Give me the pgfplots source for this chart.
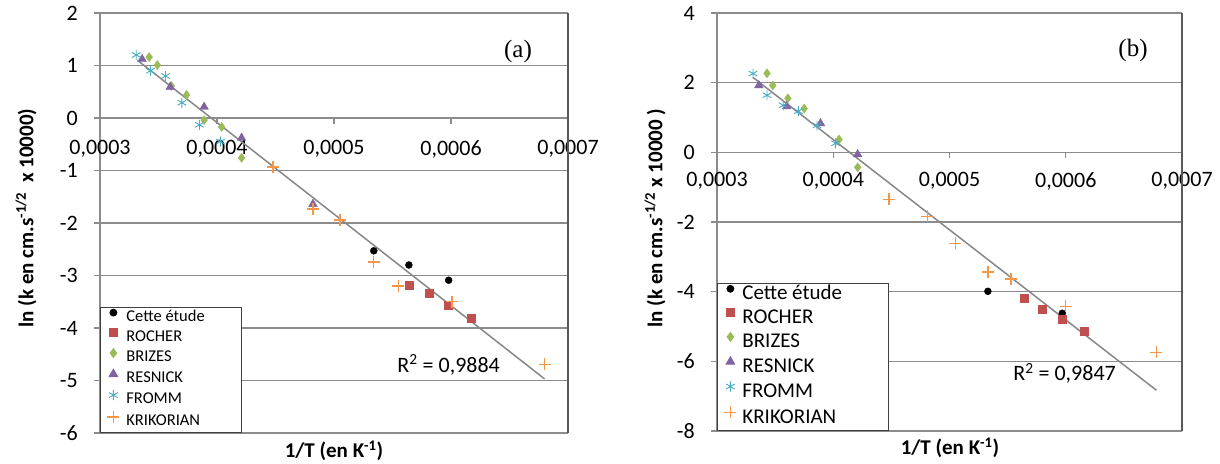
\documentclass[border=0pt]{standalone}
\usepackage{pgfplots}
\pgfplotsset{compat=1.18}
\usepackage{fontspec}
\setmainfont{Carlito}
\newfontfamily\serifA{Liberation Serif}
\definecolor{cRoch}{HTML}{C0504D}
\definecolor{cBriz}{HTML}{9BBB59}
\definecolor{cResn}{HTML}{8064A2}
\definecolor{cFrom}{HTML}{4BACC6}
\definecolor{cKrik}{HTML}{F79646}
\definecolor{cGrid}{RGB}{140,140,140}
\definecolor{cTrend}{RGB}{135,135,135}
\pgfplotsset{
  excel/.style={
    scale only axis,
    xmin=0.0003, xmax=0.0007,
    axis x line=middle, axis y line=left,
    axis line style={-, draw=cGrid, line width=1.2pt},
    ymajorgrids, grid style={draw=cGrid, line width=1.2pt},
    xtick={0.0003,0.0004,0.0005,0.0006,0.0007},
    xticklabels={{0,0003},{0,0004},{0,0005},{0,0006},{0,0007}},
    scaled x ticks=false,
    tick align=outside, major tick length=6pt,
    tick style={draw=cGrid, line width=1.2pt},
    hide obscured x ticks=false, hide obscured y ticks=false,
    xticklabel style={font=\fontsize{22}{26}\selectfont, inner sep=0pt, anchor=north, yshift=-16pt},
    yticklabel style={font=\fontsize{22}{26}\selectfont, inner sep=0pt, anchor=east, xshift=-16pt},
    legend cell align=left,
    clip=false,
  },
  lmL/.style={legend image code/.code={\draw[mark repeat=2,mark phase=2,##1] plot coordinates {(0pt,5.5pt)(7pt,5.5pt)(14pt,5.5pt)};}},
  lmR/.style={legend image code/.code={\draw[mark repeat=2,mark phase=2,##1] plot coordinates {(0pt,6.8pt)(8pt,6.8pt)(16pt,6.8pt)};}},
}
\begin{document}
\begin{tikzpicture}
\path[use as bounding box] (0,0) rectangle (1220pt,463pt);
% ---------------- (a) ----------------
\begin{axis}[excel,
  at={(100pt,30pt)}, anchor=south west,
  width=468pt, height=420pt,
  ymin=-6, ymax=2,
  ytick={-6,-5,-4,-3,-2,-1,0,1,2},
  yticklabels={-6,-5,-4,-3,-2,-1,0,1,2},
  legend style={at={(0,0)}, anchor=south west, draw=black!75, line width=0.8pt, fill=white,
    font=\fontsize{16.5}{19}\selectfont, inner xsep=7pt, inner ysep=2pt, row sep=2.5pt, column sep=7pt,
    nodes={inner sep=0pt, text height=11pt, text depth=5pt}},
]
\addplot[cTrend, line width=1.5pt, forget plot] coordinates {(0.000332,1.10) (0.000680,-4.97)};
\addplot[only marks, mark=*, mark size=3.5pt, black, lmL] coordinates {
 (0.000534,-2.53) (0.000564,-2.80) (0.000598,-3.09)};
\addlegendentry{\makebox[108pt][l]{Cette étude}}
\addplot[only marks, mark=square*, mark size=4pt, cRoch, lmL] coordinates {
 (0.000564,-3.18) (0.000581,-3.33) (0.000598,-3.56) (0.000617,-3.81)};
\addlegendentry{ROCHER}
\addplot[only marks, mark=diamond*, mark size=4.5pt, cBriz, lmL] coordinates {
 (0.000342,1.16) (0.000349,1.01) (0.000361,0.61) (0.000374,0.44) (0.000389,-0.04) (0.000404,-0.17) (0.000421,-0.76)};
\addlegendentry{BRIZES}
\addplot[only marks, mark=triangle*, mark size=5pt, cResn, lmL] coordinates {
 (0.000336,1.12) (0.000360,0.59) (0.000389,0.21) (0.000421,-0.38) (0.000482,-1.64)};
\addlegendentry{RESNICK}
\addplot[only marks, mark=asterisk, mark size=5pt, cFrom, line width=0.9pt, lmL] coordinates {
 (0.000331,1.20) (0.000343,0.90) (0.000356,0.80) (0.000370,0.29) (0.000385,-0.13) (0.000403,-0.45)};
\addlegendentry{FROMM}
\addplot[only marks, mark=+, mark size=6pt, color=cKrik, mark options={draw=cKrik, line width=1.4pt}, lmL] coordinates {
 (0.000448,-0.93) (0.000482,-1.73) (0.000505,-1.94) (0.000534,-2.74) (0.000555,-3.20) (0.000601,-3.50) (0.000680,-4.69)};
\addlegendentry{KRIKORIAN}
\draw[draw=black!65, line width=1.8pt] (rel axis cs:1,0) -- (rel axis cs:1,1);
\node[font=\fontsize{22}{26}\selectfont] at (axis cs:0.000598,-4.70) {R\textsuperscript{2} = 0,9884};
\end{axis}
% ---------------- (b) ----------------
\begin{axis}[excel,
  at={(717pt,32pt)}, anchor=south west,
  width=465pt, height=418pt,
  ymin=-8, ymax=4,
  ytick={-8,-6,-4,-2,0,2,4},
  yticklabels={-8,-6,-4,-2,0,2,4},
  xticklabel style={yshift=2pt},
  legend style={at={(0,0)}, anchor=south west, draw=black!75, line width=0.8pt, fill=white,
    font=\fontsize{21}{24}\selectfont, inner xsep=7pt, inner ysep=1.5pt, row sep=3pt, column sep=6pt,
    nodes={inner sep=0pt, text height=14pt, text depth=6pt}},
]
\addplot[cTrend, line width=1.5pt, forget plot] coordinates {(0.000331,2.15) (0.000678,-6.83)};
\addplot[only marks, mark=*, mark size=3.5pt, black, lmR] coordinates {
 (0.000533,-3.99) (0.000597,-4.62)};
\addlegendentry{\makebox[139pt][l]{Cette étude}}
\addplot[only marks, mark=square*, mark size=4pt, cRoch, lmR] coordinates {
 (0.000564,-4.19) (0.000580,-4.51) (0.000597,-4.79) (0.000616,-5.14)};
\addlegendentry{ROCHER}
\addplot[only marks, mark=diamond*, mark size=4.5pt, cBriz, lmR] coordinates {
 (0.000343,2.27) (0.000348,1.92) (0.000361,1.55) (0.000375,1.26) (0.000405,0.37) (0.000421,-0.43)};
\addlegendentry{BRIZES}
\addplot[only marks, mark=triangle*, mark size=5pt, cResn, lmR] coordinates {
 (0.000336,1.92) (0.000360,1.32) (0.000389,0.83) (0.000421,-0.06)};
\addlegendentry{RESNICK}
\addplot[only marks, mark=asterisk, mark size=5pt, cFrom, line width=0.9pt, lmR] coordinates {
 (0.000331,2.26) (0.000343,1.64) (0.000357,1.35) (0.000370,1.18) (0.000386,0.77) (0.000402,0.26)};
\addlegendentry{FROMM}
\addplot[only marks, mark=+, mark size=6pt, color=cKrik, mark options={draw=cKrik, line width=1.4pt}, lmR] coordinates {
 (0.000448,-1.35) (0.000481,-1.84) (0.000505,-2.61) (0.000533,-3.44) (0.000553,-3.64) (0.000600,-4.42) (0.000678,-5.74)};
\addlegendentry{KRIKORIAN}
\draw[draw=black!65, line width=1.8pt] (rel axis cs:1,0) -- (rel axis cs:1,1);
\node[font=\fontsize{22}{26}\selectfont] at (axis cs:0.000599,-6.34) {R\textsuperscript{2} = 0,9847};
\end{axis}
% ---------------- labels ----------------
\node[rotate=90, font=\bfseries\fontsize{21}{24}\selectfont] at (26pt,245pt) {ln (k en cm.s\textsuperscript{-1/2}\ \ x 10000)};
\node[rotate=90, font=\bfseries\fontsize{21}{24}\selectfont] at (655pt,245pt) {ln (k en cm.s\textsuperscript{-1/2} x 10000 )};
\node[font=\bfseries\fontsize{21}{24}\selectfont] at (334pt,12pt) {1/T (en K\textsuperscript{-1})};
\node[font=\bfseries\fontsize{21}{24}\selectfont] at (950pt,15pt) {1/T (en K\textsuperscript{-1})};
\node[font=\serifA\fontsize{25}{30}\selectfont] at (518pt,412pt) {(a)};
\node[font=\serifA\fontsize{25}{30}\selectfont] at (1133pt,413pt) {(b)};
\end{tikzpicture}
\end{document}
